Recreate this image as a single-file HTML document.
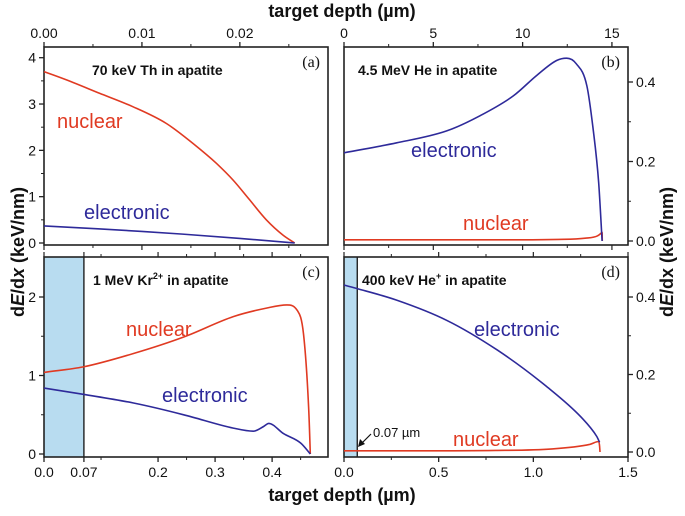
<!DOCTYPE html>
<html><head><meta charset="utf-8"><style>
body{margin:0;background:#fff}
svg{display:block;font-family:"Liberation Sans",sans-serif}
</style></head><body>
<svg id="chart" width="685" height="516" viewBox="0 0 685 516">
<g id="g"></g>
</svg>
<script>
// Panel (a) 70 keV Th
const aNucX=[0,0.0023,0.0057,0.0091,0.0125,0.0152,0.0176,0.0193,0.0210,0.0227,0.0244,0.0256];
const aNucY=[3.70,3.52,3.23,2.94,2.58,2.15,1.72,1.36,0.93,0.50,0.17,0.0];
const aEleX=[0,0.01,0.02,0.0256];
const aEleY=[0.37,0.25,0.10,0.0];
// Panel (b) 4.5 MeV He
const bEleX=[0,2.95,5.75,7.61,9.48,10.78,11.9,12.46,13.0,13.6,13.98,14.26,14.45];
const bEleY=[0.222,0.247,0.277,0.315,0.365,0.416,0.454,0.46,0.446,0.39,0.27,0.146,0.0];
const bNucX=[0,6,10,12,13.5,14.2,14.4,14.45,14.46];
const bNucY=[0.003,0.003,0.003,0.004,0.007,0.013,0.02,0.022,0.0];
// Panel (c) 1 MeV Kr2+
const cNucX=[0,0.069,0.157,0.245,0.332,0.391,0.426,0.444,0.455,0.464,0.467];
const cNucY=[1.04,1.11,1.28,1.49,1.75,1.86,1.90,1.83,1.53,0.6,0.0];
const cEleX=[0,0.069,0.157,0.245,0.332,0.367,0.385,0.394,0.42,0.45,0.467];
const cEleY=[0.84,0.76,0.65,0.50,0.33,0.29,0.35,0.39,0.26,0.14,0.0];
// Panel (d) 400 keV He+
const dEleX=[0,0.067,0.278,0.542,0.81,1.07,1.25,1.335,1.35];
const dEleY=[0.431,0.422,0.392,0.34,0.263,0.169,0.091,0.04,0.025];
const dNucX=[0,0.4,0.8,1.1,1.3,1.345,1.35,1.352];
const dNucY=[0.003,0.003,0.004,0.008,0.02,0.027,0.015,0.0];
const aTicksX=["0.00","0.01","0.02"], aTicksY=["0","1","2","3","4"];
const bTicksX=["0","5","10","15"], bTicksY=["0.0","0.2","0.4"];
const cTicksX=["0.0","0.07","0.2","0.3","0.4"], cTicksY=["0","1","2"];
const dTicksX=["0.0","0.5","1.0","1.5"], dTicksY=["0.0","0.2","0.4"];

const NS="http://www.w3.org/2000/svg";
const G=document.getElementById('g');
function mk(tag,attrs,parent){const e=document.createElementNS(NS,tag);for(const k in attrs)e.setAttribute(k,attrs[k]);(parent||G).appendChild(e);return e;}
function txt(x,y,s,size,anchor,parent,extra){const t=mk('text',Object.assign({x:x,y:y,'font-size':size,'text-anchor':anchor||'middle',fill:'#111'},extra||{}),parent);t.textContent=s;return t;}

// monotone cubic path in pixel space
function smoothPath(P){
  const n=P.length; if(n<3) return P.map((p,i)=>(i?'L':'M')+p[0].toFixed(1)+','+p[1].toFixed(1)).join('');
  const d=[],m=new Array(n);
  for(let i=0;i<n-1;i++){const dx=P[i+1][0]-P[i][0];d.push(dx===0?0:(P[i+1][1]-P[i][1])/dx);}
  m[0]=d[0];m[n-1]=d[n-2];
  for(let i=1;i<n-1;i++){m[i]=(d[i-1]*d[i]<=0)?0:(d[i-1]+d[i])/2;}
  for(let i=0;i<n-1;i++){if(d[i]===0){m[i]=0;m[i+1]=0;continue;}
    const a=m[i]/d[i],b=m[i+1]/d[i],s=a*a+b*b;if(s>9){const t=3/Math.sqrt(s);m[i]=t*a*d[i];m[i+1]=t*b*d[i];}}
  let s='M'+P[0][0].toFixed(1)+','+P[0][1].toFixed(1);
  for(let i=0;i<n-1;i++){const h=(P[i+1][0]-P[i][0])/3;
    s+='C'+(P[i][0]+h).toFixed(1)+','+(P[i][1]+m[i]*h).toFixed(1)+' '+(P[i+1][0]-h).toFixed(1)+','+(P[i+1][1]-m[i+1]*h).toFixed(1)+' '+P[i+1][0].toFixed(1)+','+P[i+1][1].toFixed(1);}
  return s;
}

const RED="#e03a22", BLUE="#2e2a9a";
function panel(P){
  const g=mk('g',{});
  
  
  const sx=v=>P.x0+(v-P.xmin)/(P.xmax-P.xmin)*(P.x1-P.x0);
  const sy=v=>P.yb-(v-P.ymin)/(P.ymax-P.ymin)*(P.yb-P.ytop);
  if(P.shade!=null){
    const r=mk('rect',{x:P.x0,y:P.top,width:sx(P.shade)-P.x0,height:P.bot-P.top,fill:'#b8dcf0'},g);
    
    
    mk('line',{x1:sx(P.shade),x2:sx(P.shade),y1:P.top,y2:P.bot,stroke:'#111','stroke-width':1.3},g);
  }
  const fr=mk('rect',{x:P.x0,y:P.top,width:P.x1-P.x0,height:P.bot-P.top,fill:'none',stroke:'#222','stroke-width':1.6},g);
  
  
  P.xt.forEach((v,i)=>{
    const X=sx(v);
    const yy=P.xside==='top'?P.top:P.bot, d=P.xside==='top'?-5:5;
    mk('line',{x1:X,x2:X,y1:yy,y2:yy+d,stroke:'#222','stroke-width':1.3},g);
    const oy=P.xside==='top'?P.bot:P.top;
    mk('line',{x1:X,x2:X,y1:oy,y2:oy-d,stroke:'#222','stroke-width':1.2},g);
    const t=txt(X,P.xside==='top'?P.top-9:P.bot+20,P.xl[i],14,'middle',g);
    
    
  });
  (P.xm||[]).forEach(v=>{const X=sx(v);
    mk('line',{x1:X,x2:X,y1:P.top,y2:P.top-3,stroke:'#222','stroke-width':1},g);
    mk('line',{x1:X,x2:X,y1:P.bot,y2:P.bot+3,stroke:'#222','stroke-width':1},g);});
  P.yt.forEach((v,i)=>{
    const Y=sy(v);
    const xx=P.yside==='left'?P.x0:P.x1, d=P.yside==='left'?-5:5;
    mk('line',{x1:xx,x2:xx+d,y1:Y,y2:Y,stroke:'#222','stroke-width':1.3},g);
    const t=txt(P.yside==='left'?P.x0-8:P.x1+8,Y+5,P.yl[i],14,P.yside==='left'?'end':'start',g);
    
    
  });
  (P.ym||[]).forEach(v=>{const Y=sy(v);const xx=P.yside==='left'?P.x0:P.x1;
    mk('line',{x1:xx,x2:xx+(P.yside==='left'?-3:3),y1:Y,y2:Y,stroke:'#222','stroke-width':1},g);});
  P.series.forEach(s=>{
    const pts=s.x.map((v,i)=>[sx(v),sy(s.y[i])]);
    const p=mk('path',{d:smoothPath(pts),fill:'none',stroke:s.c,'stroke-width':1.6,'stroke-linejoin':'round'},g);
    
    
  });
  P.labels.forEach(l=>{
    const t=txt(l.x,l.y,l.t,20,'start',g,{fill:l.c});
    
    
  });
  const tt=mk('text',{x:P.tx,y:P.top+28,'font-size':14,'font-weight':'bold',fill:'#111'},g);
  tt.innerHTML=P.title;
  
  
  const pl=txt(P.x1-8,P.top+20,P.letter,16,'end',g,{'font-family':'Liberation Serif,serif'});
  
  
}
panel({name:'panel-a',x0:44,x1:328,top:47,bot:245,xmin:0,xmax:0.029,yb:243,ytop:57.7,ymin:0,ymax:4,
  xt:[0,0.01,0.02],xl:aTicksX,xm:[0.005,0.015,0.025],xside:'top',yt:[0,1,2,3,4],yl:aTicksY,ym:[0.5,1.5,2.5,3.5],yside:'left',
  series:[{x:aNucX,y:aNucY,c:RED,n:'nuclear-line-a'},{x:aEleX,y:aEleY,c:BLUE,n:'electronic-line-a'}],
  labels:[{x:57,y:128,t:'nuclear',c:RED,n:'nuclear-label'},{x:84,y:219,t:'electronic',c:BLUE,n:'electronic-label'}],
  tx:92,title:'70 keV Th in apatite',letter:'(a)'});
panel({name:'panel-b',x0:344,x1:628,top:47,bot:245,xmin:0,xmax:15.9,yb:241,ytop:82,ymin:0,ymax:0.4,
  xt:[0,5,10,15],xl:bTicksX,xm:[2.5,7.5,12.5],xside:'top',yt:[0,0.2,0.4],yl:bTicksY,ym:[0.1,0.3],yside:'right',
  series:[{x:bNucX,y:bNucY,c:RED,n:'nuclear-line-b'},{x:bEleX,y:bEleY,c:BLUE,n:'electronic-line-b'}],
  labels:[{x:411,y:157,t:'electronic',c:BLUE,n:'electronic-label'},{x:463,y:230,t:'nuclear',c:RED,n:'nuclear-label'}],
  tx:358,title:'4.5 MeV He in apatite',letter:'(b)'});
panel({name:'panel-c',x0:44,x1:328,top:257,bot:457,xmin:0,xmax:0.498,yb:454,ytop:297,ymin:0,ymax:2,shade:0.07,
  xt:[0,0.07,0.2,0.3,0.4],xl:cTicksX,xm:[0.1,0.25,0.35,0.45],xside:'bottom',yt:[0,1,2],yl:cTicksY,ym:[0.5,1.5],yside:'left',
  series:[{x:cNucX,y:cNucY,c:RED,n:'nuclear-line-c'},{x:cEleX,y:cEleY,c:BLUE,n:'electronic-line-c'}],
  labels:[{x:126,y:336,t:'nuclear',c:RED,n:'nuclear-label'},{x:162,y:402,t:'electronic',c:BLUE,n:'electronic-label'}],
  tx:93,title:'1 MeV Kr<tspan font-size="9" dy="-6">2+</tspan><tspan dy="6"> in apatite</tspan>',letter:'(c)'});
panel({name:'panel-d',x0:344,x1:628,top:257,bot:457,xmin:0,xmax:1.5,yb:452,ytop:297,ymin:0,ymax:0.4,shade:0.07,
  xt:[0,0.5,1.0,1.5],xl:dTicksX,xm:[0.25,0.75,1.25],xside:'bottom',yt:[0,0.2,0.4],yl:dTicksY,ym:[0.1,0.3],yside:'right',
  series:[{x:dNucX,y:dNucY,c:RED,n:'nuclear-line-d'},{x:dEleX,y:dEleY,c:BLUE,n:'electronic-line-d'}],
  labels:[{x:474,y:336,t:'electronic',c:BLUE,n:'electronic-label'},{x:453,y:446,t:'nuclear',c:RED,n:'nuclear-label'}],
  tx:362,title:'400 keV He<tspan font-size="9" dy="-6">+</tspan><tspan dy="6"> in apatite</tspan>',letter:'(d)'});
const an=txt(373,437,'0.07 µm',13,'start');


mk('line',{x1:371,y1:434,x2:361,y2:444,stroke:'#111','stroke-width':1.2});
mk('path',{d:'M358,447 L360,439 L365,444 Z',fill:'#111'});
let t=txt(342,17,'target depth (µm)',18,'middle',null,{'font-weight':'bold'});


t=txt(342,501,'target depth (µm)',18,'middle',null,{'font-weight':'bold'});


t=mk('text',{x:0,y:0,'font-size':18,'font-weight':'bold','text-anchor':'middle',fill:'#111',transform:'translate(24,252) rotate(-90)'});
t.innerHTML='d<tspan font-style="italic">E</tspan>/d<tspan font-style="italic">x</tspan> (keV/nm)';


t=mk('text',{x:0,y:0,'font-size':18,'font-weight':'bold','text-anchor':'middle',fill:'#111',transform:'translate(673,252) rotate(-90)'});
t.innerHTML='d<tspan font-style="italic">E</tspan>/dx (keV/nm)';


</script>
</body></html>
